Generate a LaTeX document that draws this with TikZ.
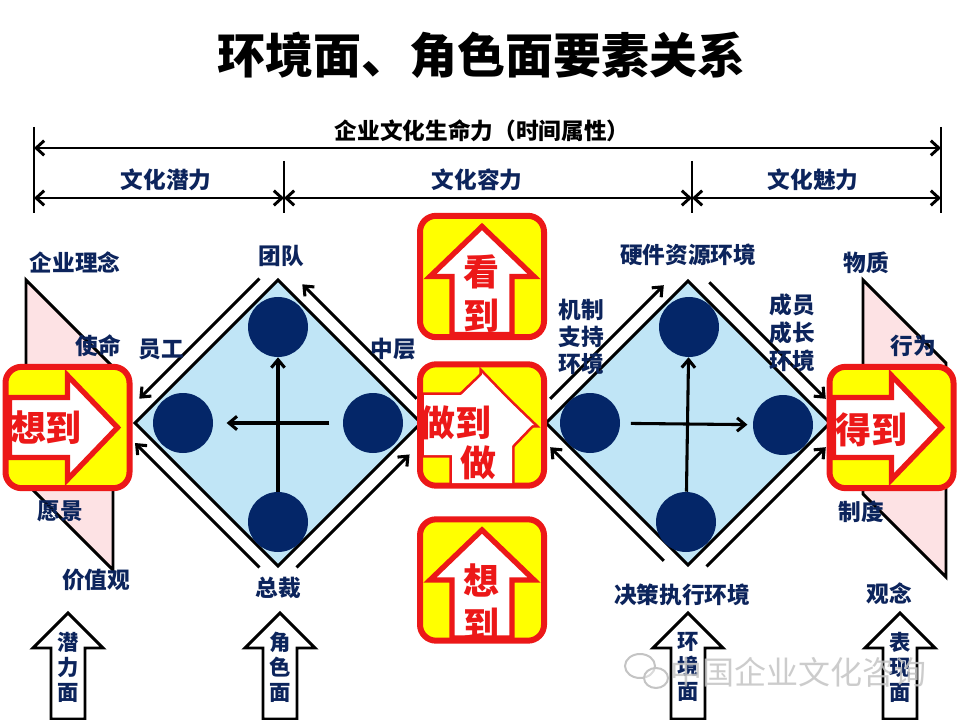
\documentclass[tikz,border=0pt]{standalone}
\usepackage{fontspec}
\setmainfont{Noto Sans CJK SC}
\usepackage{tikz}
\usetikzlibrary{arrows.meta,calc}
\definecolor{deepnavy}{RGB}{12,36,92}
\definecolor{dotnavy}{RGB}{4,38,104}
\definecolor{skyfill}{RGB}{192,229,246}
\definecolor{pinkfill}{RGB}{253,226,228}
\definecolor{signred}{RGB}{236,24,24}
\definecolor{signyellow}{RGB}{255,255,0}
\definecolor{markgray}{RGB}{196,196,196}

\tikzset{
  lbl/.style={text=deepnavy,font=\bfseries\fontsize{17}{20}\selectfont,inner sep=0pt,align=center},
  dot/.style={circle,fill=dotnavy,minimum size=45pt,inner sep=0pt},
  signbox/.style={draw=signred,line width=4.5pt,fill=signyellow,rounded corners=12pt,minimum width=93pt,minimum height=91pt},
  signword/.style={text=signred,font=\bfseries\fontsize{27}{33}\selectfont,inner sep=0pt,align=center},
  barb/.style={-{Straight Barb[length=6pt,width=10pt]},line width=2.3pt},
  dimarrow/.style={{Straight Barb[length=6pt,width=11pt]}-{Straight Barb[length=6pt,width=11pt]},line width=2.2pt},
  bigarrow/.pic={\path[pic actions] (0,-50) -- (52,0) -- (30,0) -- (30,58) -- (-30,58) -- (-30,0) -- (-52,0) -- cycle;},
  facearrow/.pic={\path[pic actions] (0,0) -- (35,35) -- (17,35) -- (17,106) -- (-17,106) -- (-17,35) -- (-35,35) -- cycle;}
}

\begin{document}
\begin{tikzpicture}[x=0.75pt,y=-0.75pt]
\useasboundingbox[fill=white] (0,0) rectangle (960,720);

% title
\node[font=\bfseries\fontsize{36}{40}\selectfont,inner sep=0pt] (title) at (481,55) {环境面、角色面要素关系};

% time axis
\coordinate (t0a) at (34,127); \coordinate (t0b) at (34,213);
\coordinate (t1a) at (284,161); \coordinate (t1b) at (284,213);
\coordinate (t2a) at (692,161); \coordinate (t2b) at (692,213);
\coordinate (t3a) at (941,127); \coordinate (t3b) at (941,213);
\foreach \i in {0,1,2,3}
  \draw[line width=2.2pt] (t\i a) -- (t\i b);
\coordinate (life0) at (34,148); \coordinate (life1) at (941,148);
\draw[dimarrow] (life0) -- (life1);
\coordinate (s0) at (34,198); \coordinate (s1) at (284,198);
\coordinate (s2) at (692,198); \coordinate (s3) at (941,198);
\draw[dimarrow] (s0) -- (s1);
\draw[dimarrow] (s1) -- (s2);
\draw[dimarrow] (s2) -- (s3);
\node[font=\bfseries\fontsize{17}{20}\selectfont,inner sep=0pt] (life) at (482,131) {企业文化生命力（时间属性）};
\node[lbl] (qianli) at (166,180) {文化潜力};
\node[lbl] (rongli) at (477,180) {文化容力};
\node[lbl] (meili) at (813,180) {文化魅力};

% side bands
\draw[line width=2.2pt,fill=pinkfill] (26,280) -- (113,367) -- (113,570) -- (26,483) -- cycle;
\draw[line width=2.2pt,fill=pinkfill] (863,280) -- (946,363) -- (946,577) -- (863,494) -- cycle;

% role diamond
\coordinate (pT) at (278,280); \coordinate (pR) at (421,423);
\coordinate (pB) at (278,566); \coordinate (pL) at (135,423);
\draw[line width=2.2pt,fill=skyfill] (pT) -- (pR) -- (pB) -- (pL) -- cycle;
\node[dot] (p1) at (278,327) {};
\node[dot] (p2) at (183,423) {};
\node[dot] (p3) at (373,423) {};
\node[dot] (p4) at (278,522) {};
\draw[barb] (p4) -- (p1);
\draw[barb,shorten <=10pt,shorten >=10pt] (p3) -- (p2);
\foreach \a/\b/\dx/\dy/\s/\e in {pT/pL/-10/-10/0.06/0.9, pR/pT/10/-10/0.1/0.9,
                                 pB/pR/10/10/0.06/0.85, pB/pL/-10/10/0.06/0.93}
  \draw[barb] ($(\a)!\s!(\b)+(\dx,\dy)$) -- ($(\a)!\e!(\b)+(\dx,\dy)$);

% environment diamond
\coordinate (qT) at (688,281); \coordinate (qR) at (830,423);
\coordinate (qB) at (688,565); \coordinate (qL) at (546,423);
\draw[line width=2.2pt,fill=skyfill] (qT) -- (qR) -- (qB) -- (qL) -- cycle;
\node[dot] (q1) at (689,327) {};
\node[dot] (q2) at (590,423) {};
\node[dot] (q3) at (783,425) {};
\node[dot] (q4) at (686,522) {};
\draw[barb] (q4) -- (q1);
\draw[barb,shorten <=8pt,shorten >=4pt] (q2) -- (q3);
\foreach \a/\b/\dx/\dy/\s/\e in {qL/qT/-10/-10/0.1/0.9, qT/qR/10/-10/0.08/0.9,
                                 qB/qL/-10/10/0.1/0.9, qB/qR/10/10/0.06/0.9}
  \draw[barb] ($(\a)!\s!(\b)+(\dx,\dy)$) -- ($(\a)!\e!(\b)+(\dx,\dy)$);

% signs
\node[signbox] (xd) at (67.5,427.5) {};
\pic[draw=signred,line width=4pt,fill=white,rotate=-90] at (xd) {bigarrow};
\node[signword] (xdw) at (46,428) {想到};

\node[signbox] (dd) at (891.5,427.5) {};
\pic[draw=signred,line width=4pt,fill=white,rotate=-90] at (dd) {bigarrow};
\node[signword] (ddw) at (871,430) {得到};

\node[signbox] (kd) at (482,276.5) {};
\pic[draw=signred,line width=4pt,fill=white] at (kd) {bigarrow};
\node[signword] (kdw) at (481,294) {看\\到};

\node[signbox] (zd) at (482,425) {};
\pic[draw=signred,line width=4pt,rotate=-90] at (zd) {bigarrow};
\pic[draw=signred,line width=4pt] at (zd) {bigarrow};
\pic[fill=white,rotate=-90] at (zd) {bigarrow};
\pic[fill=white] at (zd) {bigarrow};
\node[signword] (zdw) at (455,423) {做到};
\node[signword] (zdw2) at (478,463) {做};

\node[signbox] (xd2) at (482,580) {};
\pic[draw=signred,line width=4pt,fill=white] at (xd2) {bigarrow};
\node[signword] (xd2w) at (481,603) {想\\到};

% labels
\node[lbl] (linian) at (75,262) {企业理念};
\node[lbl] (shiming) at (98,346) {使命};
\node[lbl] (yuangong) at (161,349) {员工};
\node[lbl] (tuandui) at (281,256) {团队};
\node[lbl] (zhongceng) at (393,349) {中层};
\node[lbl] (yuanjing) at (60,511) {愿景};
\node[lbl] (jiazhi) at (96,580) {价值观};
\node[lbl] (zongcai) at (278,588) {总裁};
\node[lbl] (yingjian) at (688,255) {硬件资源环境};
\node[lbl,font=\bfseries\fontsize{17}{20.5}\selectfont] (jizhi) at (581,337) {机制\\支持\\环境};
\node[lbl,font=\bfseries\fontsize{17}{21}\selectfont] (chengyuan) at (792,333) {成员\\成长\\环境};
\node[lbl] (wuzhi) at (866,263) {物质};
\node[lbl] (xingwei) at (913,346) {行为};
\node[lbl] (zhidu) at (861,512) {制度};
\node[lbl] (guannian) at (889,594) {观念};
\node[lbl] (juece) at (682,595) {决策执行环境};

% faces
\foreach \x/\name/\txt in {68/fq/潜\\力\\面, 280/fj/角\\色\\面, 688/fh/环\\境\\面, 900/fb/表\\现\\面} {
  \pic[draw=black,line width=2.2pt,fill=white] at (\x,613) {facearrow};
  \node[lbl,font=\bfseries\fontsize{16}{18.75}\selectfont] (\name) at (\x,667) {\txt};
}

% watermark
\draw[markgray,line width=1.5pt] (640,666) ellipse (15 and 12);
\draw[markgray,line width=1.5pt,fill=white,fill opacity=0.4] (656,678) ellipse (12 and 10);
\node[text=markgray,opacity=0.85,font=\fontsize{24}{26}\selectfont,inner sep=0pt] (mark) at (798,672) {中国企业文化咨询};
\end{tikzpicture}
\end{document}
